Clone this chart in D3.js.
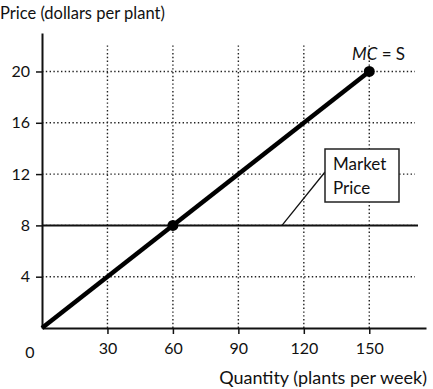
<!DOCTYPE html>
<html>
<head>
<meta charset="utf-8">
<script src="https://cdn.jsdelivr.net/npm/d3@7"></script>
<style>
  body { margin: 0; background: #fff; }
  text { font-family: Lato, 'Open Sans', sans-serif; fill: #111; }
</style>
</head>
<body>
<svg width="433" height="389"></svg>
<script>
// chart values
const xTicks = [30, 60, 90, 120, 150]
const yTicks = [4, 8, 12, 16, 20]
const mcQuantity = [0, 150]
const mcPrice = [0, 20]
const marketPrice = 8
const points = [[60, 8], [150, 20]]

const svg = d3.select('svg')

const x = d3.scaleLinear().domain([0, 176]).range([42, 426])
const y = d3.scaleLinear().domain([0, 23]).range([328, 33])

// dotted grid
svg.append('g')
  .selectAll('line')
  .data(yTicks)
  .enter().append('line')
  .attr('x1', x(0))
  .attr('x2', 415)
  .attr('y1', d => y(d))
  .attr('y2', d => y(d))
  .attr('stroke', '#222')
  .attr('stroke-width', 1.4)
  .attr('stroke-dasharray', '1.4,2.4')

svg.append('g')
  .selectAll('line')
  .data(xTicks)
  .enter().append('line')
  .attr('x1', d => x(d))
  .attr('x2', d => x(d))
  .attr('y1', y(0))
  .attr('y2', 45)
  .attr('stroke', '#222')
  .attr('stroke-width', 1.4)
  .attr('stroke-dasharray', '1.4,2.4')

// axes
const xAxis = svg.append('g')
  .attr('transform', `translate(0,${y(0)})`)
  .call(d3.axisBottom(x).tickValues(xTicks).tickSize(6).tickPadding(9).tickSizeOuter(0))
xAxis.select('.domain').attr('stroke', '#111').attr('stroke-width', 2)
xAxis.selectAll('.tick line').attr('stroke', '#111').attr('stroke-width', 1.5)
xAxis.selectAll('.tick text').style('font-size', '16px').attr('fill', '#111')

const yAxis = svg.append('g')
  .attr('transform', `translate(${x(0)},0)`)
  .call(d3.axisLeft(y).tickValues(yTicks).tickSize(6).tickPadding(6).tickSizeOuter(0))
yAxis.select('.domain').attr('stroke', '#111').attr('stroke-width', 2)
yAxis.selectAll('.tick line').attr('stroke', '#111').attr('stroke-width', 1.5)
yAxis.selectAll('.tick text').style('font-size', '16px').attr('fill', '#111')

svg.append('text')
  .attr('x', 30).attr('y', 358)
  .attr('text-anchor', 'middle')
  .style('font-size', '16px')
  .text('0')

// market price line
svg.append('line')
  .attr('x1', x(0)).attr('x2', 418)
  .attr('y1', y(marketPrice)).attr('y2', y(marketPrice))
  .attr('stroke', '#111')
  .attr('stroke-width', 2)

// MC = S curve
svg.append('line')
  .attr('x1', x(mcQuantity[0])).attr('y1', y(mcPrice[0]))
  .attr('x2', x(mcQuantity[1])).attr('y2', y(mcPrice[1]))
  .attr('stroke', '#000')
  .attr('stroke-width', 4.5)

svg.append('g')
  .selectAll('circle')
  .data(points)
  .enter().append('circle')
  .attr('cx', d => x(d[0]))
  .attr('cy', d => y(d[1]))
  .attr('r', 5.5)
  .attr('fill', '#000')

// labels
svg.append('text')
  .attr('x', 352).attr('y', 60)
  .style('font-size', '17px')
  .html('<tspan font-style="italic">MC</tspan> = S')

svg.append('line')
  .attr('x1', 282).attr('y1', y(marketPrice))
  .attr('x2', 325).attr('y2', 172)
  .attr('stroke', '#111')
  .attr('stroke-width', 1.3)

svg.append('rect')
  .attr('x', 325).attr('y', 149)
  .attr('width', 74).attr('height', 53)
  .attr('fill', '#fff')
  .attr('stroke', '#222')
  .attr('stroke-width', 1.5)

svg.append('text')
  .attr('x', 333).attr('y', 170)
  .style('font-size', '17px')
  .text('Market')
svg.append('text')
  .attr('x', 333).attr('y', 194)
  .style('font-size', '17px')
  .text('Price')

svg.append('text')
  .attr('x', 0).attr('y', 19)
  .style('font-size', '16.5px')
  .text('Price (dollars per plant)')

svg.append('text')
  .attr('x', 427).attr('y', 384)
  .attr('text-anchor', 'end')
  .style('font-size', '18px')
  .text('Quantity (plants per week)')
</script>
</body>
</html>
